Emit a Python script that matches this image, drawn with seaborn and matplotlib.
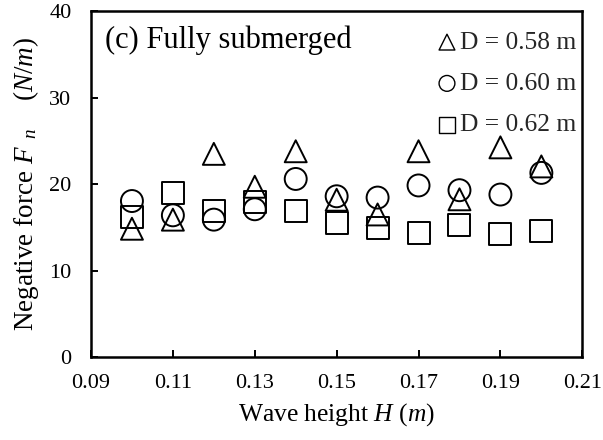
import matplotlib
matplotlib.use("Agg")
import matplotlib.pyplot as plt
import seaborn as sns
import pandas as pd

wave_height = [0.10, 0.11, 0.12, 0.13, 0.14, 0.15, 0.16, 0.17, 0.18, 0.19, 0.20]
force_d058 = [14.85, 15.9, 23.5, 19.7, 23.8, 18.2, 16.5, 23.8, 18.25, 24.25, 22.05]
force_d060 = [18.05, 16.4, 15.9, 17.1, 20.6, 18.6, 18.45, 19.85, 19.3, 18.8, 21.3]
force_d062 = [16.2, 19.0, 16.9, 17.9, 16.9, 15.5, 14.9, 14.35, 15.3, 14.2, 14.6]
series_labels = ["D = 0.58 m", "D = 0.60 m", "D = 0.62 m"]
series_markers = ["^", "o", "s"]
x_ticks = [0.09, 0.11, 0.13, 0.15, 0.17, 0.19, 0.21]
y_ticks = [0, 10, 20, 30, 40]

sns.set_theme(style="white")
plt.rcParams["font.family"] = ["Liberation Serif", "DejaVu Serif"]
plt.rcParams["mathtext.fontset"] = "custom"
plt.rcParams["mathtext.rm"] = "Liberation Serif"
plt.rcParams["mathtext.it"] = "Liberation Serif:italic"

fig = plt.figure(figsize=(6.03, 4.40), dpi=100)
ax = fig.add_axes([91 / 603, 1 - 357.3 / 440, (582.3 - 91) / 603, (357.3 - 11) / 440])

for vals, lab, mk in zip([force_d058, force_d060, force_d062], series_labels, series_markers):
    df = pd.DataFrame({"H": wave_height, "F": vals})
    sns.scatterplot(data=df, x="H", y="F", marker=mk, s=250, ax=ax, label=lab,
                    color="black", linewidth=1.4, zorder=3)

for coll in ax.collections:
    coll.set_facecolor("none")
    coll.set_edgecolor("black")
    coll.set_linewidth(1.4)

ax.set_xlim(0.09, 0.21)
ax.set_ylim(0, 40)
ax.set_xticks(x_ticks)
ax.set_xticklabels([f"{t:.2f}" for t in x_ticks])
ax.set_yticks(y_ticks)
ax.tick_params(axis="both", direction="in", length=5, width=1.4, labelsize=16,
               colors="black")
ax.tick_params(axis="x", pad=12, top=False, bottom=True)
ax.tick_params(axis="y", pad=14, left=True, right=False)
for sp in ax.spines.values():
    sp.set_color("black")
    sp.set_linewidth(1.8)

ax.set_xlabel("Wave height $H$ ($m$)", fontsize=18.4, color="black", labelpad=6)
ax.set_ylabel("Negative force $F_{\\ \\ n}$    ($N/m$)", fontsize=19.5, color="black",
              labelpad=6)

ax.text(0.028, 0.916, "(c) Fully submerged", transform=ax.transAxes, fontsize=22,
        va="center", ha="left", color="black")

leg = ax.legend(loc="upper right", bbox_to_anchor=(1.008, 0.972), frameon=False,
                fontsize=18.4, markerscale=0.72, handlelength=0.6, handletextpad=0.2,
                labelspacing=0.72, borderaxespad=0.0, borderpad=0.4)
for h in leg.legend_handles:
    h.set_linewidth(1.0)

fig.savefig("out.png", dpi=100)
